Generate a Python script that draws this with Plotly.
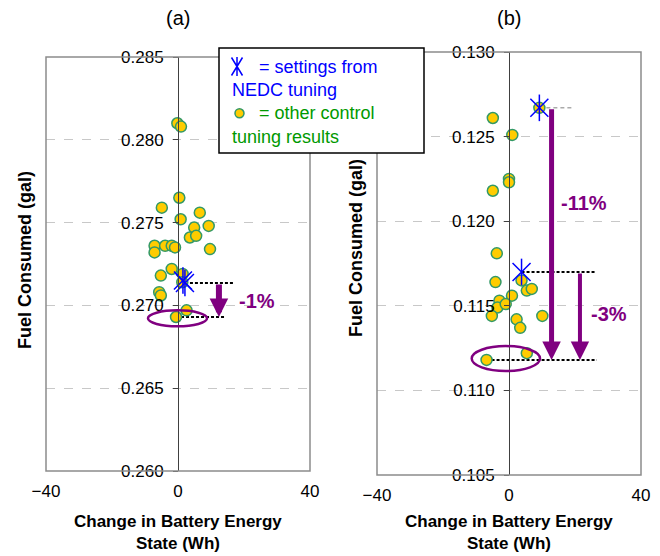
import plotly.graph_objects as go

W, H = 660, 556
FONT = "Liberation Sans, Arial, sans-serif"
OFF = 8  # page body margin of the browser

# ---------------- data ----------------
x_ticks = [-40, 0, 40]
y_ticks_a = [0.260, 0.265, 0.270, 0.275, 0.280, 0.285]
y_ticks_b = [0.105, 0.110, 0.115, 0.120, 0.125, 0.130]

# panel (a): other control tuning results
other_a_x = [-0.2, 0.9, 0.4, -4.9, 0.8, 6.6, 9.3, 4.9, 3.6, 5.5, 9.7, -7.1,
             -7.1, -3.9, -1.9, -0.9, -1.9, -5.2, 1.4, 1.3, -5.7, -5.2, 2.6, -0.6]
other_a_y = [0.2810, 0.2808, 0.2765, 0.2759, 0.2752, 0.2756, 0.2748, 0.2747,
             0.2741, 0.2742, 0.2734, 0.2736, 0.2732, 0.2736, 0.2736, 0.2735,
             0.2722, 0.2718, 0.2719, 0.2714, 0.2708, 0.2706, 0.2697, 0.2693]
# panel (a): settings from NEDC tuning
nedc_a_x = [1.5, 2.1]
nedc_a_y = [0.27150, 0.27135]

# panel (b)
other_b_x = [9.2, -4.9, 1.0, 0.0, 0.0, -4.9, -3.7, -4.1, 3.8, 5.4, 6.9, 0.9,
             -2.9, -3.5, -1.0, -5.2, 2.3, 3.4, 10.1, 5.4, -6.8]
other_b_y = [0.1267, 0.1261, 0.1251, 0.1225, 0.1223, 0.1218, 0.1181, 0.1164,
             0.1165, 0.1159, 0.1160, 0.1156, 0.1153, 0.1149, 0.1151, 0.1144,
             0.1142, 0.1137, 0.1144, 0.1122, 0.1118]
nedc_b_x = [9.2, 3.8]
nedc_b_y = [0.1267, 0.1170]

pct_labels_a = ["-1%"]
pct_labels_b = ["-11%", "-3%"]

# ---------------- layout geometry (window pixels) ----------------
A_L, A_R, A_T, A_B = 46, 310, 57, 471
B_L, B_R, B_T, B_B = 377, 641, 52, 475


def px(x):
    return (x - OFF) / W


def py(y):
    return 1 - (y - OFF) / H


YELLOW = "#FFCC00"
GREEN_EDGE = "#339966"
BLUE = "#0000FF"
PURPLE = "#800080"

fig = go.Figure()


def add_points(xs, ys, xa, ya):
    fig.add_trace(go.Scatter(
        x=xs, y=ys, xaxis=xa, yaxis=ya, mode="markers",
        marker=dict(size=11, color=YELLOW, line=dict(color=GREEN_EDGE, width=1.5)),
        showlegend=False, hoverinfo="skip"))


def add_stars(xs, ys, xa, ya):
    for sym, sz in [("x-thin-open", 18), ("line-ns-open", 19)]:
        fig.add_trace(go.Scatter(
            x=xs, y=ys, xaxis=xa, yaxis=ya, mode="markers",
            marker=dict(size=sz, symbol=sym, color=BLUE, line=dict(color=BLUE, width=1.5)),
            showlegend=False, hoverinfo="skip"))


def add_ref_line(x0, x1, y, xa, ya, color="black", width=2, dash="3px,2px"):
    fig.add_trace(go.Scatter(
        x=[x0, x1], y=[y, y], xaxis=xa, yaxis=ya, mode="lines",
        line=dict(color=color, width=width, dash=dash),
        showlegend=False, hoverinfo="skip"))


# panel (a)
best_a = min(range(len(other_a_y)), key=lambda i: other_a_y[i])
add_ref_line(nedc_a_x[1], 16.7, nedc_a_y[1], "x", "y")
add_ref_line(other_a_x[best_a], 14.5, other_a_y[best_a], "x", "y")
add_points(other_a_x, other_a_y, "x", "y")
add_stars(nedc_a_x, nedc_a_y, "x", "y")

# panel (b)
best_b = min(range(len(other_b_y)), key=lambda i: other_b_y[i])
add_ref_line(nedc_b_x[0], 19.1, nedc_b_y[0], "x2", "y2", color="#808080", width=1, dash="4px,3px")
add_ref_line(nedc_b_x[1], 26.4, nedc_b_y[1], "x2", "y2")
add_ref_line(other_b_x[best_b], 26.6, other_b_y[best_b], "x2", "y2")
add_points(other_b_x, other_b_y, "x2", "y2")
add_stars(nedc_b_x, nedc_b_y, "x2", "y2")

axis_font = dict(family=FONT, size=17, color="black")

fig.update_layout(
    width=W, height=H,
    margin=dict(l=0, r=0, t=0, b=0, pad=0, autoexpand=False),
    paper_bgcolor="white", plot_bgcolor="white",
    showlegend=False,
    xaxis=dict(domain=[px(A_L), px(A_R)], range=[-40, 40], tickvals=x_ticks,
               showgrid=False, zeroline=False, showline=False, ticks="",
               tickfont=axis_font, ticklabelstandoff=8, anchor="y", automargin=False),
    yaxis=dict(domain=[py(A_B), py(A_T)], range=[y_ticks_a[0], y_ticks_a[-1]],
               tickvals=y_ticks_a, tickformat=".3f", anchor="free", position=px(178),
               showline=True, linecolor="#404040", linewidth=1,
               ticks="outside", ticklen=5, tickcolor="#404040",
               showgrid=True, gridcolor="#c8c8c8", griddash="dash", gridwidth=1,
               zeroline=False, tickfont=axis_font, ticklabelstandoff=6, automargin=False),
    xaxis2=dict(domain=[px(B_L), px(B_R)], range=[-40, 40], tickvals=x_ticks,
                showgrid=False, zeroline=False, showline=False, ticks="",
                tickfont=axis_font, ticklabelstandoff=8, anchor="y2", automargin=False),
    yaxis2=dict(domain=[py(B_B), py(B_T)], range=[y_ticks_b[0], y_ticks_b[-1]],
                tickvals=y_ticks_b, tickformat=".3f", anchor="free", position=px(509),
                showline=True, linecolor="#404040", linewidth=1,
                ticks="outside", ticklen=5, tickcolor="#404040",
                showgrid=True, gridcolor="#c8c8c8", griddash="dash", gridwidth=1,
                zeroline=False, tickfont=axis_font, ticklabelstandoff=6, automargin=False),
)

shapes = []
# plot borders
for xr, yr in [("x domain", "y domain"), ("x2 domain", "y2 domain")]:
    shapes.append(dict(type="rect", xref=xr, yref=yr, x0=0, x1=1, y0=0, y1=1,
                       line=dict(color="#8c8c8c", width=1.5), layer="above"))
# ellipses around best results
shapes.append(dict(type="circle", xref="x", yref="y", x0=-9.1, x1=8.8,
                   y0=0.26874, y1=0.26970, line=dict(color=PURPLE, width=2.5)))
shapes.append(dict(type="circle", xref="x2", yref="y2", x0=-11.3, x1=9.4,
                   y0=0.11114, y1=0.11262, line=dict(color=PURPLE, width=2.5)))
# legend box
shapes.append(dict(type="rect", xref="paper", yref="paper", x0=px(219), x1=px(424),
                   y0=py(153), y1=py(48), fillcolor="white",
                   line=dict(color="black", width=1.5), layer="above"))
# legend icons
shapes.append(dict(type="circle", xref="paper", yref="paper", x0=px(235), x1=px(244),
                   y0=py(117.8), y1=py(108.8), fillcolor=YELLOW,
                   line=dict(color=GREEN_EDGE, width=1.5), layer="above"))


def seg(x0, y0, x1, y1):
    return f"M{px(x0)},{py(y0)} L{px(x1)},{py(y1)}"


star_path = " ".join([seg(237, 57, 237, 76), seg(231.5, 57.5, 242.5, 75.5),
                      seg(242.5, 57.5, 231.5, 75.5)])
shapes.append(dict(type="path", xref="paper", yref="paper", path=star_path,
                   line=dict(color=BLUE, width=1.5), layer="above"))
fig.update_layout(shapes=shapes)

ann = []


def arrow(xa, ya, x, y_from, y_to, width, size):
    ann.append(dict(xref=xa, yref=ya, axref=xa, ayref=ya, x=x, y=y_to, ax=x, ay=y_from,
                    text="", showarrow=True, arrowhead=2, arrowwidth=width,
                    arrowsize=size, arrowcolor=PURPLE, standoff=0))


arrow("x", "y", 12.4, nedc_a_y[1], other_a_y[best_a], 6, 0.62)
arrow("x2", "y2", 12.9, nedc_b_y[0], other_b_y[best_b], 5, 0.74)
arrow("x2", "y2", 21.5, nedc_b_y[1], other_b_y[best_b], 4, 0.92)

pct_font = dict(family=FONT, size=20, color=PURPLE)
for xa, ya, x, y, t in [("x", "y", 23.9, 0.27024, pct_labels_a[0]),
                        ("x2", "y2", 22.7, 0.12107, pct_labels_b[0]),
                        ("x2", "y2", 30.2, 0.1145, pct_labels_b[1])]:
    ann.append(dict(xref=xa, yref=ya, x=x, y=y, text="<b>%s</b>" % t, xanchor="center",
                    yanchor="middle", showarrow=False, font=pct_font))

# panel titles
for t, xc in [("(a)", 178), ("(b)", 509)]:
    ann.append(dict(xref="paper", yref="paper", x=px(xc), y=py(18), text=t,
                    xanchor="center", yanchor="middle",
                    showarrow=False, font=dict(family=FONT, size=20, color="black")))
# axis titles
for xc in [178, 509]:
    ann.append(dict(xref="paper", yref="paper", x=px(xc), y=py(532),
                    xanchor="center", yanchor="middle",
                    text="<b>Change in Battery Energy<br>State (Wh)</b>", showarrow=False,
                    font=dict(family=FONT, size=17, color="black"), align="center"))
for xc, yc in [(25, 260), (356, 248)]:
    ann.append(dict(xref="paper", yref="paper", x=px(xc), y=py(yc),
                    xanchor="center", yanchor="middle",
                    text="<b>Fuel Consumed (gal)</b>", showarrow=False, textangle=-90,
                    font=dict(family=FONT, size=18, color="black")))
# legend text
leg_font_b = dict(family=FONT, size=18, color=BLUE)
leg_font_g = dict(family=FONT, size=18, color="#009900")
for txt, xl, yc, f in [("= settings from", 257, 66.7, leg_font_b),
                       ("NEDC tuning", 230, 90, leg_font_b),
                       ("= other control", 257, 113, leg_font_g),
                       ("tuning results", 230, 136.7, leg_font_g)]:
    ann.append(dict(xref="paper", yref="paper", x=px(xl), y=py(yc), xanchor="left",
                    yanchor="middle", text=txt, showarrow=False, font=f))

fig.update_layout(annotations=ann)
fig.write_html("out.html")
